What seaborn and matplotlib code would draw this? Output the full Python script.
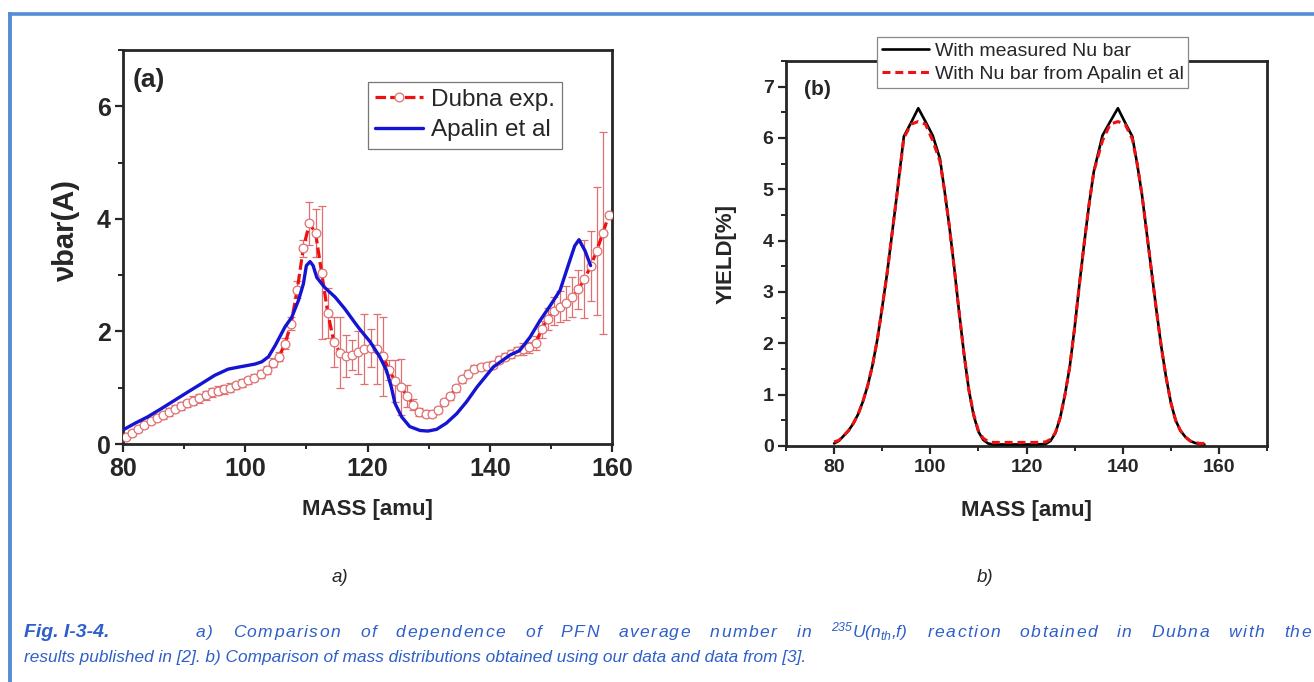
import numpy as np
import pandas as pd
import matplotlib
matplotlib.use("Agg")
import matplotlib.pyplot as plt
import seaborn as sns
from matplotlib.lines import Line2D
from matplotlib.ticker import MultipleLocator

# ---------------- data: panel (a) ----------------
dubna_mass = [80.5, 81.5, 82.5, 83.5, 84.5, 85.5, 86.5, 87.5, 88.5, 89.5,
              90.5, 91.5, 92.5, 93.5, 94.5, 95.5, 96.5, 97.5, 98.5, 99.5,
              100.5, 101.5, 102.5, 103.5, 104.5, 105.5, 106.5, 107.5, 108.5, 109.5,
              110.5, 111.5, 112.5, 113.5, 114.5, 115.5, 116.5, 117.5, 118.5, 119.5,
              120.5, 121.5, 122.5, 123.5, 124.5, 125.5, 126.5, 127.5, 128.5, 129.5,
              130.5, 131.5, 132.5, 133.5, 134.5, 135.5, 136.5, 137.5, 138.5, 139.5,
              140.5, 141.5, 142.5, 143.5, 144.5, 145.5, 146.5, 147.5, 148.5, 149.5,
              150.5, 151.5, 152.5, 153.5, 154.5, 155.5, 156.5, 157.5, 158.5, 159.5]
dubna_nu = [0.13, 0.20, 0.26, 0.34, 0.41, 0.46, 0.51, 0.57, 0.63, 0.67,
            0.72, 0.77, 0.81, 0.87, 0.92, 0.95, 0.97, 1.00, 1.04, 1.09,
            1.13, 1.18, 1.25, 1.32, 1.44, 1.55, 1.78, 2.14, 2.74, 3.48,
            3.92, 3.75, 3.04, 2.33, 1.81, 1.62, 1.56, 1.58, 1.63, 1.69,
            1.71, 1.69, 1.56, 1.32, 1.12, 1.01, 0.85, 0.70, 0.57, 0.54,
            0.53, 0.60, 0.75, 0.85, 0.99, 1.15, 1.25, 1.34, 1.37, 1.38,
            1.41, 1.50, 1.55, 1.60, 1.66, 1.69, 1.72, 1.79, 2.04, 2.22,
            2.36, 2.44, 2.50, 2.61, 2.75, 2.93, 3.16, 3.43, 3.75, 4.07]
dubna_err = [0.05, 0.05, 0.05, 0.05, 0.06, 0.06, 0.06, 0.07, 0.07, 0.07,
             0.07, 0.08, 0.08, 0.08, 0.08, 0.08, 0.08, 0.08, 0.07, 0.07,
             0.06, 0.06, 0.07, 0.07, 0.08, 0.08, 0.10, 0.12, 0.15, 0.15,
             0.38, 0.42, 1.18, 0.45, 0.45, 0.63, 0.37, 0.27, 0.38, 0.62,
             0.34, 0.62, 0.70, 0.18, 0.38, 0.50, 0.20, 0.10, 0.07, 0.06,
             0.05, 0.05, 0.05, 0.06, 0.06, 0.06, 0.06, 0.06, 0.06, 0.06,
             0.06, 0.06, 0.06, 0.07, 0.07, 0.10, 0.10, 0.12, 0.15, 0.20,
             0.25, 0.28, 0.30, 0.35, 0.35, 0.70, 0.62, 1.14, 1.80, 0.00]

apalin_mass = [80, 82, 84, 86.3, 88.5, 90.7, 92.8, 95, 97.2, 99.1,
               101.6, 102.7, 103.8, 104.9, 106.5, 107.6, 108.7, 109.5, 110.0, 110.6,
               111.1, 111.7, 113.0, 114.7, 116.3, 117.9, 118.8, 120.4, 122.0, 123.1,
               123.9, 124.5, 125.6, 126.9, 128.6, 129.9, 131.3, 132.9, 134.6, 136.2,
               137.9, 140.6, 143.3, 144.9, 146.6, 148.2, 149.9, 151.5, 153.1, 153.9,
               154.6, 155.6, 156.5]
apalin_nu = [0.25, 0.37, 0.48, 0.63, 0.78, 0.93, 1.07, 1.22, 1.33, 1.37,
             1.42, 1.46, 1.55, 1.75, 2.08, 2.25, 2.55, 2.84, 3.17, 3.24,
             3.17, 2.96, 2.78, 2.61, 2.40, 2.16, 2.03, 1.82, 1.55, 1.31,
             1.01, 0.72, 0.48, 0.31, 0.24, 0.23, 0.26, 0.37, 0.54, 0.75,
             1.01, 1.37, 1.58, 1.66, 1.90, 2.19, 2.46, 2.73, 3.26, 3.52,
             3.63, 3.43, 3.17]

# ---------------- data: panel (b) ----------------
yield_mass = [80, 81, 82, 83, 84, 85, 86, 87, 88, 89, 90, 91, 92, 93,
              94.5, 96, 97.5, 99, 100.5,
              102, 103, 104, 105, 106, 107, 108, 109, 110, 111, 112, 113,
              114, 116, 118, 120, 122, 124,
              125, 126, 127, 128, 129, 130, 131, 132, 133, 134,
              135.8, 137.4, 139, 140.5, 142,
              143, 144, 145, 146, 147, 148, 149, 150, 151, 152, 153, 154, 155, 156, 157]
yield_measured = [0.05, 0.10, 0.20, 0.30, 0.44, 0.62, 0.87, 1.18, 1.58, 2.08, 2.70, 3.35, 4.10, 4.85,
                  6.03, 6.30, 6.58, 6.32, 6.05,
                  5.60, 4.95, 4.25, 3.45, 2.60, 1.80, 1.10, 0.60, 0.28, 0.12, 0.05, 0.03,
                  0.03, 0.03, 0.03, 0.03, 0.03, 0.04,
                  0.10, 0.25, 0.55, 1.00, 1.55, 2.30, 3.15, 3.95, 4.70, 5.35,
                  6.05, 6.32, 6.58, 6.30, 6.03,
                  5.50, 4.90, 4.15, 3.40, 2.65, 1.95, 1.35, 0.85, 0.50, 0.30, 0.18, 0.10, 0.06, 0.04, 0.03]
yield_apalin = [0.08, 0.11, 0.20, 0.30, 0.44, 0.62, 0.87, 1.18, 1.58, 2.08, 2.70, 3.35, 4.10, 4.85,
                6.00, 6.27, 6.32, 6.27, 5.95,
                5.55, 4.95, 4.25, 3.45, 2.60, 1.80, 1.10, 0.62, 0.30, 0.15, 0.09, 0.07,
                0.07, 0.07, 0.07, 0.07, 0.07, 0.08,
                0.13, 0.26, 0.55, 1.00, 1.55, 2.30, 3.15, 3.95, 4.70, 5.35,
                5.95, 6.27, 6.32, 6.27, 5.98,
                5.50, 4.90, 4.15, 3.40, 2.65, 1.95, 1.35, 0.85, 0.50, 0.30, 0.18, 0.10, 0.07, 0.05, 0.05]

legend_a = ["Dubna exp.", "Apalin et al"]
legend_b = ["With measured Nu bar", "With Nu bar from Apalin et al"]

# ---------------- style ----------------
sns.set_theme(style="ticks")
plt.rcParams["font.family"] = ["Liberation Sans", "DejaVu Sans"]
plt.rcParams["mathtext.fontset"] = "custom"
plt.rcParams["mathtext.rm"] = "Liberation Sans:italic"
plt.rcParams["mathtext.it"] = "Liberation Sans:italic"

W, H = 1314, 682
fig = plt.figure(figsize=(W / 100, H / 100), dpi=100)
fig.patch.set_facecolor("white")

RED = "#ee1111"
ERR = "#e07070"
BLUE = "#1414d2"

def px_axes(l, t, r, b):
    return fig.add_axes([l / W, 1 - b / H, (r - l) / W, (b - t) / H])

# ---------------- panel (a) ----------------
ax = px_axes(123, 50, 612, 444)
df_d = pd.DataFrame({"mass": dubna_mass, "nu": dubna_nu, "err": dubna_err})
df_a = pd.DataFrame({"mass": apalin_mass, "nu": apalin_nu})

ax.errorbar(df_d["mass"], df_d["nu"], yerr=df_d["err"], fmt="none",
            ecolor=ERR, elinewidth=0.9, capsize=3, capthick=0.9, zorder=2)
sns.lineplot(data=df_d, x="mass", y="nu", ax=ax, color=RED, lw=2.3,
             linestyle=(0, (3.3, 1.3)), marker="o", markersize=6.3,
             markerfacecolor="white", markeredgecolor=ERR, markeredgewidth=0.9,
             zorder=3, sort=False)
sns.lineplot(data=df_a, x="mass", y="nu", ax=ax, color=BLUE, lw=2.4,
             zorder=4, sort=False)

ax.set_xlim(80, 160)
ax.set_ylim(0, 7)
ax.xaxis.set_major_locator(MultipleLocator(20))
ax.xaxis.set_minor_locator(MultipleLocator(10))
ax.yaxis.set_major_locator(MultipleLocator(2))
ax.yaxis.set_minor_locator(MultipleLocator(1))
ax.tick_params(which="major", direction="out", length=6, width=1.6,
               labelsize=18, pad=3)
ax.tick_params(which="minor", direction="out", length=3.5, width=1.4)
for lab in ax.get_xticklabels() + ax.get_yticklabels():
    lab.set_fontweight("bold")
for s in ax.spines.values():
    s.set_linewidth(2.0)
    s.set_visible(True)
ax.set_xlabel("MASS [amu]", fontsize=16, fontweight="bold")
ax.set_ylabel("\u03bdbar(A)", fontsize=21, fontweight="bold")
ax.xaxis.set_label_coords(0.5, -0.14)
ax.yaxis.set_label_coords(-0.088, 0.54)
ax.xaxis.label.set_va("top")
ax.text(0.02, 0.925, "(a)", transform=ax.transAxes, fontsize=19,
        fontweight="bold", va="center", ha="left")

h1 = Line2D([], [], color=RED, lw=2.3, linestyle=(0, (3.3, 1.3)), marker="o",
            markersize=6.3, markerfacecolor="white", markeredgecolor=ERR,
            markeredgewidth=0.9)
h2 = Line2D([], [], color=BLUE, lw=2.4)
leg = ax.legend([h1, h2], legend_a, loc="upper left", bbox_to_anchor=(0.5, 0.92),
                frameon=True, fancybox=False, edgecolor="#777777", framealpha=1,
                fontsize=17.5, handlelength=2.0, borderpad=0.3, labelspacing=0.35,
                handletextpad=0.3, borderaxespad=0, numpoints=1)
leg.get_frame().set_linewidth(0.9)

# ---------------- panel (b) ----------------
bx = px_axes(786, 61, 1267, 446)
df_b = pd.DataFrame({"mass": yield_mass, "measured": yield_measured,
                     "apalin": yield_apalin})
sns.lineplot(data=df_b, x="mass", y="measured", ax=bx, color="black", lw=1.9,
             zorder=3, sort=False)
sns.lineplot(data=df_b, x="mass", y="apalin", ax=bx, color=RED, lw=2.2,
             linestyle=(0, (2.6, 1.6)), zorder=4, sort=False)
bx.set_xlim(70, 170)
bx.set_ylim(0, 7.5)
bx.xaxis.set_major_locator(MultipleLocator(20))
bx.xaxis.set_minor_locator(MultipleLocator(10))
bx.yaxis.set_major_locator(MultipleLocator(1))
bx.yaxis.set_minor_locator(MultipleLocator(0.5))
bx.set_xticks([80, 100, 120, 140, 160])
bx.tick_params(which="major", direction="out", length=6, width=1.6,
               labelsize=14, pad=3)
bx.tick_params(which="minor", direction="out", length=3.5, width=1.4)
for lab in bx.get_xticklabels() + bx.get_yticklabels():
    lab.set_fontweight("bold")
for s in bx.spines.values():
    s.set_linewidth(2.0)
    s.set_visible(True)
bx.set_xlabel("MASS [amu]", fontsize=16, fontweight="bold")
bx.set_ylabel("YIELD[%]", fontsize=16, fontweight="bold")
bx.xaxis.set_label_coords(0.5, -0.14)
bx.xaxis.label.set_va("top")
bx.yaxis.set_label_coords(-0.102, 0.5)
bx.text(0.037, 0.925, "(b)", transform=bx.transAxes, fontsize=15,
        fontweight="bold", va="center", ha="left")
g1 = Line2D([], [], color="black", lw=1.9)
g2 = Line2D([], [], color=RED, lw=2.2, linestyle=(0, (2.6, 1.6)))
legb = bx.legend([g1, g2], legend_b, loc="upper left", bbox_to_anchor=(0.19, 1.062),
                 frameon=True, fancybox=False, edgecolor="#888888", framealpha=1,
                 fontsize=14, handlelength=2.4, borderpad=0.25, labelspacing=0.3,
                 handletextpad=0.3, borderaxespad=0)
legb.get_frame().set_linewidth(0.9)

# ---------------- sub-labels & caption ----------------
fig.text(340 / W, 1 - 578 / H, "a)", fontsize=13.5, style="italic", ha="center", va="center")
fig.text(985 / W, 1 - 578 / H, "b)", fontsize=13.5, style="italic", ha="center", va="center")

CAP = "#2e5fc9"
renderer = fig.canvas.get_renderer()


def justified_line(tokens, x0, x1, ybase, size, weight="normal", word_share=0.65):
    """Lay out words between x0 and x1 pixels (justified line): part of the
    spare room goes to word gaps, the rest to a light letter spacing."""
    items = []  # [artist, width, is_last_glyph_of_word]
    for wi, tok in enumerate(tokens):
        pieces = [tok] if "$" in tok else list(tok)
        for pi, ch in enumerate(pieces):
            t = fig.text(0, 1 - ybase / H, ch, fontsize=size, style="italic",
                         fontweight=weight, color=CAP, va="baseline", ha="left")
            w = t.get_window_extent(renderer).width
            sp = (pi == len(pieces) - 1) and (wi < len(tokens) - 1)
            items.append([t, w, sp])
    space = 0.28 * size * 100 / 72
    n_gaps = sum(1 for i in items if i[2])
    natural = sum(i[1] for i in items) + space * n_gaps
    extra = max(x1 - x0 - natural, 0)
    word_extra = extra * word_share / max(n_gaps, 1)
    track = extra * (1 - word_share) / (len(items) - 1)
    x = x0
    for t, w, sp in items:
        t.set_x(x / W)
        x += w + track + ((space + word_extra) if sp else 0)


fig.text(24 / W, 1 - 637 / H, "Fig. I-3-4.", fontsize=14, style="italic",
         fontweight="bold", color=CAP, va="baseline", ha="left")
justified_line(["a)", "Comparison", "of", "dependence", "of", "PFN", "average", "number",
                "in", "$\\mathregular{^{235}}$U(n$\\mathregular{_{th}}$,f)", "reaction",
                "obtained", "in", "Dubna", "with", "the"], 196, 1311, 637, 12.6)
fig.text(24 / W, 1 - 662 / H,
         "results published in [2]. b) Comparison of mass distributions obtained using our data and data from [3].",
         fontsize=12.4, style="italic", color=CAP, va="baseline", ha="left")

# ---------------- blue frame ----------------
BORDER = "#558cd7"
fig.add_artist(Line2D([8 / W, 1.0], [1 - 13.5 / H, 1 - 13.5 / H],
                      transform=fig.transFigure, color=BORDER, lw=2.6,
                      solid_capstyle="butt"))
fig.add_artist(Line2D([10 / W, 10 / W], [0, 1 - 12 / H],
                      transform=fig.transFigure, color=BORDER, lw=2.8,
                      solid_capstyle="butt"))

fig.savefig("out.png", dpi=100, facecolor="white")
